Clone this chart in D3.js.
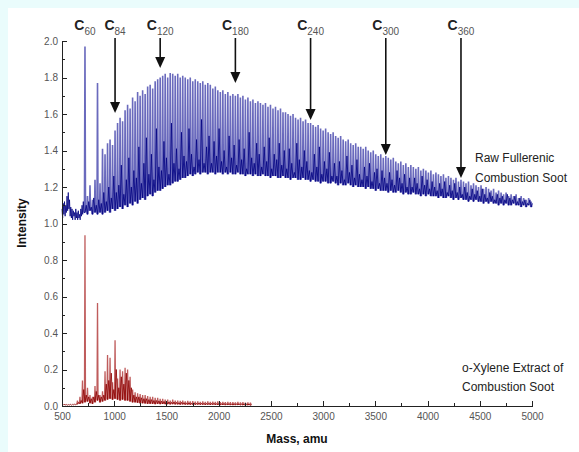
<!DOCTYPE html>
<meta charset="utf-8">
<style>

body { margin: 0; background: #eafcfc; }
svg { display: block; }

.axis text { font: 10px "Liberation Sans", Arial, sans-serif; fill: #555; }
.axis path, .axis line { stroke: #222; shape-rendering: crispEdges; }
.title { font: bold 12px "Liberation Sans", Arial, sans-serif; fill: #111; }
.note { font: 12px "Liberation Sans", Arial, sans-serif; fill: #222; }
.clabel { font: bold 14px "Liberation Sans", Arial, sans-serif; fill: #222; }

</style>
<svg class="chart"></svg>
<script src="https://d3js.org/d3.v7.min.js"></script>
<script>

var width = 579,
    height = 452;

// tick labels
var xTicks = [500, 1000, 1500, 2000, 2500, 3000, 3500, 4000, 4500, 5000];
var xMinor = [750, 1250, 1750, 2250, 2750, 3250, 3750, 4250, 4750];
var yTicks = [0, 0.2, 0.4, 0.6, 0.8, 1.0, 1.2, 1.4, 1.6, 1.8, 2.0];
var yMinor = [0.1, 0.3, 0.5, 0.7, 0.9, 1.1, 1.3, 1.5, 1.7, 1.9];

// marked clusters (carbon number) and where each arrow points (intensity)
var markedClusters = [60, 84, 120, 180, 240, 300, 360];
var arrowTip = [null, 1.605, 1.852, 1.77, 1.567, 1.375, 1.25];

// raw soot: noise below C60
var rawLowMass = [500, 506, 512, 518, 524, 530, 536, 542, 548, 554, 560, 566, 572, 578, 584, 590, 596, 602,
  608, 614, 620, 626, 632, 638, 644, 650, 656, 662, 668, 674, 680, 686, 692, 698, 704, 710];
var rawLowInt = [1.08, 1.03, 1.11, 1.05, 1.12, 1.04, 1.10, 1.06, 1.15, 1.07, 1.17, 1.08, 1.13, 1.04, 1.09, 1.03, 1.08, 1.02,
  1.07, 1.04, 1.06, 1.02, 1.08, 1.03, 1.06, 1.02, 1.07, 1.03, 1.05, 1.02, 1.08, 1.04, 1.10, 1.05, 1.12, 1.06];

// raw soot: C60 ... C416, one value per even carbon cluster
var rawCarbons = d3.range(60, 418, 2);
var rawTop = [
  1.97, 1.15, 1.21, 1.13, 1.24, 1.77, 1.22, 1.41, 1.38, 1.44,
  1.46, 1.43, 1.51, 1.55, 1.58, 1.56, 1.62, 1.65, 1.63, 1.69,
  1.67, 1.72, 1.70, 1.73, 1.71, 1.75, 1.76, 1.74, 1.78, 1.79,
  1.80, 1.81, 1.82, 1.80, 1.825, 1.82, 1.81, 1.82, 1.80, 1.81,
  1.80, 1.79, 1.80, 1.78, 1.79, 1.78, 1.77, 1.78, 1.76, 1.77,
  1.76, 1.74, 1.75, 1.73, 1.72, 1.73, 1.71, 1.72, 1.70, 1.71,
  1.70, 1.71, 1.69, 1.70, 1.68, 1.69, 1.67, 1.68, 1.66, 1.67,
  1.66, 1.65, 1.66, 1.64, 1.65, 1.63, 1.64, 1.62, 1.63, 1.61,
  1.61, 1.60, 1.59, 1.60, 1.58, 1.57, 1.58, 1.56, 1.57, 1.55,
  1.55, 1.54, 1.53, 1.54, 1.52, 1.51, 1.52, 1.50, 1.49, 1.50,
  1.48, 1.47, 1.48, 1.46, 1.45, 1.46, 1.44, 1.43, 1.44, 1.42,
  1.42, 1.41, 1.42, 1.40, 1.39, 1.40, 1.38, 1.37, 1.38, 1.36,
  1.37, 1.36, 1.35, 1.36, 1.34, 1.33, 1.34, 1.32, 1.33, 1.31,
  1.32, 1.31, 1.30, 1.31, 1.29, 1.30, 1.29, 1.28, 1.29, 1.27,
  1.28, 1.27, 1.26, 1.27, 1.25, 1.26, 1.25, 1.24, 1.25, 1.23,
  1.24, 1.23, 1.22, 1.23, 1.21, 1.22, 1.21, 1.20, 1.21, 1.19,
  1.20, 1.19, 1.18, 1.19, 1.17, 1.18, 1.17, 1.16, 1.17, 1.15,
  1.16, 1.15, 1.16, 1.14, 1.15, 1.14, 1.13, 1.14, 1.12];
var rawValley = [
  1.06, 1.05, 1.07, 1.05, 1.06, 1.05, 1.06, 1.05, 1.06, 1.07,
  1.06, 1.08, 1.07, 1.08, 1.09, 1.08, 1.10, 1.09, 1.11, 1.10,
  1.12, 1.11, 1.13, 1.14, 1.13, 1.15, 1.16, 1.15, 1.17, 1.18,
  1.18, 1.19, 1.20, 1.21, 1.21, 1.22, 1.23, 1.23, 1.24, 1.25,
  1.25, 1.26, 1.27, 1.26, 1.27, 1.28, 1.27, 1.28, 1.28, 1.27,
  1.28, 1.28, 1.27, 1.28, 1.28, 1.27, 1.28, 1.27, 1.28, 1.27,
  1.27, 1.28, 1.27, 1.27, 1.26, 1.27, 1.27, 1.26, 1.27, 1.26,
  1.26, 1.27, 1.26, 1.26, 1.25, 1.26, 1.26, 1.25, 1.25, 1.26,
  1.25, 1.25, 1.24, 1.25, 1.25, 1.24, 1.24, 1.25, 1.24, 1.24,
  1.23, 1.24, 1.23, 1.23, 1.22, 1.23, 1.23, 1.22, 1.22, 1.23,
  1.22, 1.21, 1.22, 1.21, 1.21, 1.22, 1.21, 1.20, 1.21, 1.20,
  1.20, 1.20, 1.19, 1.20, 1.19, 1.19, 1.18, 1.19, 1.18, 1.18,
  1.18, 1.17, 1.18, 1.17, 1.17, 1.18, 1.17, 1.16, 1.17, 1.16,
  1.16, 1.17, 1.16, 1.16, 1.15, 1.16, 1.15, 1.16, 1.15, 1.15,
  1.15, 1.14, 1.15, 1.14, 1.14, 1.15, 1.14, 1.13, 1.14, 1.13,
  1.14, 1.13, 1.13, 1.12, 1.13, 1.12, 1.13, 1.12, 1.12, 1.11,
  1.12, 1.11, 1.12, 1.11, 1.11, 1.10, 1.11, 1.10, 1.11, 1.10,
  1.10, 1.11, 1.10, 1.10, 1.09, 1.10, 1.09, 1.10, 1.09];
// satellite peaks between the clusters
var rawMid = [
  1.10, 1.12, 1.09, 1.14, 1.10, 1.13, 1.11, 1.17, 1.12, 1.20,
  1.14, 1.26, 1.17, 1.21, 1.32, 1.16, 1.24, 1.36, 1.20, 1.29,
  1.25, 1.42, 1.22, 1.33, 1.47, 1.27, 1.38, 1.24, 1.52, 1.31,
  1.29, 1.45, 1.36, 1.27, 1.55, 1.33, 1.41, 1.30, 1.50, 1.37,
  1.34, 1.52, 1.38, 1.31, 1.46, 1.35, 1.57, 1.33, 1.42, 1.48,
  1.33, 1.45, 1.37, 1.52, 1.34, 1.40, 1.31, 1.48, 1.36, 1.43,
  1.32, 1.46, 1.35, 1.41, 1.30, 1.50, 1.36, 1.33, 1.44, 1.38,
  1.31, 1.42, 1.34, 1.47, 1.30, 1.38, 1.35, 1.44, 1.32, 1.40,
  1.30, 1.41, 1.33, 1.28, 1.44, 1.35, 1.31, 1.40, 1.34, 1.29,
  1.28, 1.38, 1.31, 1.42, 1.27, 1.34, 1.30, 1.39, 1.26, 1.33,
  1.26, 1.34, 1.29, 1.24, 1.37, 1.28, 1.32, 1.25, 1.35, 1.27,
  1.24, 1.31, 1.26, 1.33, 1.23, 1.28, 1.30, 1.22, 1.29, 1.25,
  1.22, 1.28, 1.24, 1.21, 1.29, 1.25, 1.22, 1.27, 1.20, 1.25,
  1.20, 1.25, 1.22, 1.19, 1.26, 1.21, 1.24, 1.19, 1.23, 1.20,
  1.18, 1.22, 1.19, 1.23, 1.17, 1.21, 1.18, 1.22, 1.17, 1.20,
  1.16, 1.20, 1.17, 1.15, 1.19, 1.16, 1.18, 1.15, 1.19, 1.16,
  1.14, 1.17, 1.15, 1.13, 1.16, 1.14, 1.15, 1.13, 1.16, 1.14,
  1.13, 1.15, 1.12, 1.14, 1.12, 1.13, 1.11, 1.13, 1.11];

// o-xylene extract: noise below C54
var extLowMass = [500, 510, 520, 530, 540, 550, 560, 570, 580, 590, 600, 610, 620, 630, 640];
var extLowInt = [0.008, 0.004, 0.01, 0.005, 0.009, 0.004, 0.008, 0.005, 0.01, 0.004, 0.009, 0.005, 0.012, 0.006, 0.01];

// o-xylene extract: C54 ... C192
var extCarbons = d3.range(54, 194, 2);
var extTop = [
  0.03, 0.05, 0.14, 0.935, 0.10, 0.06, 0.05, 0.11, 0.565, 0.06,
  0.08, 0.19, 0.28, 0.265, 0.13, 0.36, 0.15, 0.20, 0.19, 0.21,
  0.20, 0.16, 0.09, 0.075, 0.07, 0.065, 0.06, 0.06, 0.055, 0.05,
  0.05, 0.045, 0.045, 0.04, 0.04, 0.035, 0.035, 0.03, 0.035, 0.03,
  0.03, 0.028, 0.03, 0.025, 0.028, 0.025, 0.027, 0.024, 0.026, 0.023,
  0.025, 0.022, 0.025, 0.023, 0.024, 0.022, 0.025, 0.022, 0.023, 0.021,
  0.023, 0.021, 0.022, 0.02, 0.022, 0.02, 0.021, 0.019, 0.02, 0.018];
var extValley = [
  0.01, 0.012, 0.015, 0.02, 0.025, 0.015, 0.012, 0.02, 0.03, 0.02,
  0.025, 0.03, 0.035, 0.04, 0.035, 0.04, 0.035, 0.03, 0.035, 0.03,
  0.03, 0.025, 0.02, 0.02, 0.018, 0.015, 0.015, 0.014, 0.012, 0.012,
  0.012, 0.01, 0.012, 0.01, 0.011, 0.01, 0.01, 0.009, 0.01, 0.009,
  0.009, 0.008, 0.009, 0.008, 0.008, 0.007, 0.008, 0.007, 0.008, 0.007,
  0.007, 0.006, 0.007, 0.006, 0.007, 0.006, 0.006, 0.005, 0.006, 0.005,
  0.006, 0.005, 0.005, 0.005, 0.006, 0.005, 0.005, 0.004, 0.005, 0.004];
var extMid = [
  0.02, 0.03, 0.09, 0.06, 0.05, 0.04, 0.05, 0.08, 0.06, 0.05,
  0.06, 0.12, 0.14, 0.18, 0.09, 0.20, 0.10, 0.16, 0.12, 0.18,
  0.14, 0.10, 0.06, 0.05, 0.05, 0.045, 0.04, 0.04, 0.035, 0.035,
  0.03, 0.03, 0.028, 0.027, 0.025, 0.024, 0.022, 0.02, 0.022, 0.02,
  0.018, 0.02, 0.018, 0.017, 0.018, 0.016, 0.017, 0.015, 0.016, 0.015,
  0.015, 0.014, 0.015, 0.014, 0.015, 0.013, 0.014, 0.013, 0.014, 0.012,
  0.013, 0.012, 0.013, 0.012, 0.012, 0.011, 0.012, 0.011, 0.011, 0.01];

var x = d3.scaleLinear().domain([500, 5000]).range([62, 532]);
var y = d3.scaleLinear().domain([0, 2]).range([406, 41]);

var svg = d3.select(".chart")
    .attr("width", width)
    .attr("height", height);

svg.append("rect").attr("width", width).attr("height", height).attr("fill", "#eafcfc");
svg.append("rect").attr("x", 8).attr("y", 8).attr("width", width - 8).attr("height", height - 8).attr("fill", "#fff");

// tall cluster peaks, one spike each
function spikes(carbons, top, valley) {
  var p = d3.path();
  carbons.forEach(function(n, i) {
    var m = n * 12;
    p.moveTo(x(m - 5), y(valley[i]));
    p.lineTo(x(m), y(top[i]));
    p.lineTo(x(m + 5), y(valley[i]));
  });
  return p.toString();
}

// dense low part of the trace
function band(lowMass, lowInt, carbons, valley, mid) {
  var pts = lowMass.map(function(m, i) { return [m, lowInt[i]]; });
  carbons.forEach(function(n, i) {
    pts.push([n * 12, valley[i]]);
    pts.push([n * 12 + 12, mid[i]]);
  });
  return d3.line().x(function(d) { return x(d[0]); }).y(function(d) { return y(d[1]); })(pts);
}

svg.append("path").attr("d", spikes(rawCarbons, rawTop, rawValley))
    .attr("fill", "none").attr("stroke", "#6a6abd").attr("stroke-width", 1.6);
svg.append("path").attr("d", band(rawLowMass, rawLowInt, rawCarbons, rawValley, rawMid))
    .attr("fill", "none").attr("stroke", "#000080").attr("stroke-width", 0.8);

svg.append("path").attr("d", spikes(extCarbons, extTop, extValley))
    .attr("fill", "none").attr("stroke", "#bf5c5c").attr("stroke-width", 1.3);
svg.append("path").attr("d", band(extLowMass, extLowInt, extCarbons, extValley, extMid))
    .attr("fill", "none").attr("stroke", "#8b0000").attr("stroke-width", 0.8);

// axes
svg.append("g").attr("class", "axis")
    .attr("transform", "translate(62,0)")
    .call(d3.axisLeft(y).tickValues(yTicks).tickFormat(d3.format(".1f")).tickSize(-5).tickSizeOuter(0).tickPadding(4));
svg.append("g").attr("class", "axis")
    .attr("transform", "translate(62,0)")
    .call(d3.axisLeft(y).tickValues(yMinor).tickFormat("").tickSize(-3).tickSizeOuter(0))
  .select(".domain").remove();

svg.append("g").attr("class", "axis")
    .attr("transform", "translate(0,406)")
    .call(d3.axisBottom(x).tickValues(xTicks).tickFormat(d3.format("d")).tickSize(-5).tickSizeOuter(0).tickPadding(7));
svg.append("g").attr("class", "axis")
    .attr("transform", "translate(0,406)")
    .call(d3.axisBottom(x).tickValues(xMinor).tickFormat("").tickSize(-3).tickSizeOuter(0))
  .select(".domain").remove();

svg.append("text").attr("class", "title")
    .attr("x", 297).attr("y", 443).attr("text-anchor", "middle")
    .text("Mass, amu");
svg.append("text").attr("class", "title")
    .attr("transform", "translate(26,223) rotate(-90)").attr("text-anchor", "middle")
    .text("Intensity");

// cluster labels and arrows
var marks = svg.selectAll(".mark")
    .data(markedClusters)
  .enter().append("g")
    .attr("class", "mark");

var lbl = marks.append("text").attr("class", "clabel")
    .attr("x", function(d) { return x(d * 12); })
    .attr("y", 30)
    .attr("text-anchor", "middle");
lbl.append("tspan").text("C");
lbl.append("tspan").attr("dy", 5).attr("font-weight", "normal").attr("font-size", 10).attr("fill", "#555")
    .text(function(d) { return d; });

marks.filter(function(d, i) { return arrowTip[i] != null; }).each(function(d) {
  var i = markedClusters.indexOf(d), ax = x(d * 12), ty = y(arrowTip[i]);
  var g = d3.select(this);
  g.append("line").attr("x1", ax).attr("x2", ax).attr("y1", 38).attr("y2", ty - 9)
      .attr("stroke", "#111").attr("stroke-width", 1.6);
  g.append("path").attr("d", "M" + (ax - 5) + "," + (ty - 11) + "L" + (ax + 5) + "," + (ty - 11) + "L" + ax + "," + ty + "Z")
      .attr("fill", "#111");
});

// series notes
svg.append("text").attr("class", "note").attr("x", 475).attr("y", 162).attr("font-size", 13).text("Raw Fullerenic");
svg.append("text").attr("class", "note").attr("x", 475).attr("y", 182).attr("font-size", 13).text("Combustion Soot");
svg.append("text").attr("class", "note").attr("x", 462).attr("y", 372).text("o-Xylene Extract of");
svg.append("text").attr("class", "note").attr("x", 462).attr("y", 391).text("Combustion Soot");

</script>
